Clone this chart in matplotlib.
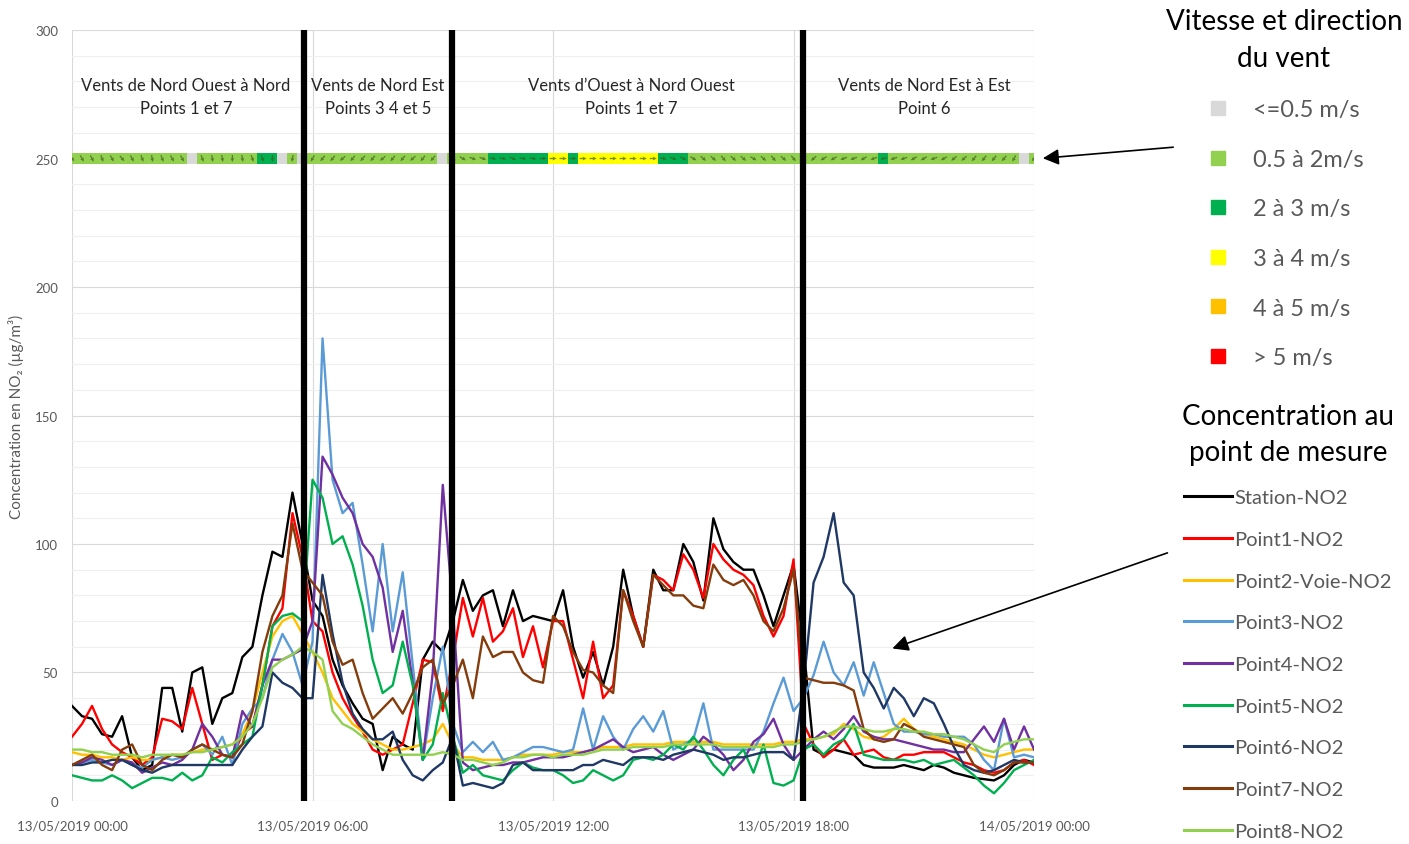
import numpy as np
import matplotlib.pyplot as plt
from matplotlib.lines import Line2D

plt.rcParams['font.family'] = ['Lato', 'DejaVu Sans']

# time axis: 15 min steps over 13/05/2019 (hours)
hours = np.arange(97) * 0.25

# NO2 concentrations (µg/m3), 15 min steps
station = [37, 33, 32, 26, 25, 33, 17, 12, 14, 44, 44, 27, 50, 52, 30, 40,
           42, 56, 60, 80, 97, 95, 120, 100, 78, 72, 55, 45, 38, 32, 30, 12,
           25, 22, 20, 55, 62, 58, 70, 86, 74, 80, 82, 68, 82, 70, 72, 71,
           70, 82, 60, 48, 58, 45, 60, 90, 72, 60, 90, 82, 82, 100, 93, 78,
           110, 98, 93, 90, 90, 80, 68, 80, 92, 60, 20, 18, 20, 19, 18, 14,
           13, 13, 13, 14, 13, 12, 14, 13, 11, 10, 9, 8.5, 8, 10, 14, 16, 15]
point1 = [25, 30, 37, 28, 22, 19, 17, 14, 17, 32, 31, 28, 44, 30, 16, 18,
          17, 26, 29, 45, 68, 75, 112, 95, 70, 66, 50, 40, 33, 27, 20, 18,
          20, 22, 38, 55, 54, 35, 55, 79, 64, 79, 62, 66, 75, 56, 68, 52,
          70, 70, 55, 40, 62, 40, 45, 82, 72, 60, 88, 86, 82, 96, 90, 79,
          100, 94, 90, 88, 84, 72, 64, 72, 94, 30, 22, 17, 20, 24, 18, 19,
          20, 17, 16, 18, 18, 19, 19, 19, 17, 15, 14, 12, 11, 12, 15, 16, 14]
point2 = [19, 18, 18, 17, 17, 16, 17, 16, 16, 17, 18, 18, 19, 20, 20, 21,
          22, 26, 35, 50, 64, 70, 72, 65, 58, 50, 40, 35, 30, 27, 24, 22,
          20, 20, 21, 22, 24, 30, 22, 17, 17, 16, 16, 16, 17, 18, 18, 18,
          18, 19, 19, 19, 20, 21, 21, 21, 22, 22, 22, 22, 23, 23, 23, 23,
          23, 22, 22, 22, 22, 22, 22, 23, 23, 24, 24, 25, 26, 30, 28, 25,
          24, 25, 28, 32, 28, 26, 25, 24, 23, 22, 20, 18, 17, 18, 19, 20, 20]
point3 = [14, 15, 16, 15, 14, 16, 14, 13, 16, 17, 16, 17, 20, 22, 18, 25,
          14, 30, 36, 40, 55, 65, 58, 45, 62, 180, 125, 112, 116, 92, 66, 100,
          66, 89, 53, 16, 40, 60, 30, 19, 23, 19, 23, 16, 17, 19, 21, 21,
          20, 19, 20, 36, 20, 33, 25, 20, 28, 33, 27, 35, 20, 22, 24, 38,
          20, 20, 20, 20, 20, 27, 38, 48, 35, 40, 49, 62, 50, 45, 54, 41,
          54, 42, 30, 27, 27, 26, 26, 25, 25, 25, 22, 16, 12, 32, 17, 18, 17]
point4 = [14, 15, 17, 16, 14, 16, 15, 11, 13, 15, 14, 16, 20, 30, 25, 18,
          17, 35, 29, 45, 55, 55, 57, 59, 70, 134, 127, 118, 112, 100, 95, 83,
          58, 74, 46, 16, 50, 123, 75, 15, 12, 13, 14, 14, 15, 15, 16, 17,
          17, 17, 18, 19, 20, 22, 24, 21, 19, 20, 21, 18, 16, 18, 20, 25,
          22, 18, 12, 16, 23, 26, 32, 22, 16, 20, 24, 27, 24, 28, 33, 27,
          25, 24, 24, 23, 22, 21, 20, 20, 19, 19, 24, 29, 23, 32, 20, 29, 20]
point5 = [10, 9, 8, 8, 10, 8, 5, 7, 9, 9, 8, 11, 8, 10, 17, 15,
          19, 22, 25, 45, 68, 72, 73, 70, 125, 118, 100, 103, 92, 76, 55, 42,
          45, 62, 45, 16, 22, 42, 25, 11, 14, 10, 9, 8, 12, 15, 13, 12,
          12, 10, 7, 8, 12, 10, 8, 10, 16, 17, 16, 18, 22, 20, 25, 20,
          14, 10, 16, 20, 11, 22, 7, 6, 8, 20, 22, 18, 22, 24, 30, 18,
          17, 16, 16, 16, 15, 16, 14, 15, 16, 13, 10, 6, 3, 7, 12, 14, 16]
point6 = [14, 14, 15, 15, 16, 16, 14, 12, 11, 13, 14, 14, 14, 14, 14, 14,
          14, 20, 25, 29, 50, 46, 44, 40, 40, 88, 65, 46, 34, 28, 24, 24,
          27, 16, 10, 8, 12, 15, 25, 6, 7, 6, 5, 7, 14, 15, 12, 12,
          12, 12, 12, 14, 14, 16, 15, 14, 17, 17, 17, 16, 18, 19, 20, 19,
          18, 16, 17, 17, 18, 19, 19, 19, 16, 45, 85, 95, 112, 85, 80, 50,
          44, 36, 44, 40, 33, 40, 38, 30, 21, 14, 12, 11, 12, 14, 16, 15, 15]
point7 = [14, 16, 18, 14, 12, 20, 22, 14, 12, 16, 18, 17, 20, 22, 20, 18,
          17, 22, 35, 58, 72, 80, 108, 90, 85, 80, 62, 53, 55, 42, 32, 36,
          40, 34, 42, 52, 55, 38, 45, 55, 40, 64, 56, 58, 58, 50, 47, 46,
          72, 68, 58, 51, 50, 45, 42, 82, 70, 60, 88, 84, 80, 80, 76, 75,
          92, 86, 84, 86, 80, 70, 66, 75, 90, 48, 47, 46, 46, 45, 43, 28,
          24, 23, 24, 30, 28, 25, 24, 23, 22, 21, 14, 11, 10, 12, 15, 15, 15]
point8 = [20, 20, 19, 19, 18, 18, 18, 17, 18, 18, 18, 18, 19, 19, 20, 21,
          22, 25, 30, 40, 52, 55, 57, 60, 58, 55, 35, 30, 28, 25, 22, 20,
          18, 18, 18, 18, 18, 19, 18, 16, 16, 15, 14, 15, 17, 17, 18, 18,
          17, 18, 18, 18, 19, 20, 20, 20, 21, 21, 21, 21, 22, 22, 22, 22,
          22, 21, 21, 21, 21, 21, 21, 22, 22, 23, 24, 25, 27, 29, 29, 28,
          27, 27, 28, 28, 27, 27, 26, 26, 25, 24, 22, 20, 19, 22, 23, 24, 24]

series_names = ['Station-NO2', 'Point1-NO2', 'Point2-Voie-NO2', 'Point3-NO2',
                'Point4-NO2', 'Point5-NO2', 'Point6-NO2', 'Point7-NO2', 'Point8-NO2']
series_values = [station, point1, point2, point3, point4, point5, point6, point7, point8]
series_colors = ['#000000', '#ff0000', '#ffc000', '#5b9bd5', '#7030a0',
                 '#00b050', '#1f3864', '#843c0c', '#92d050']

# wind class per 15 min step (0: <=0.5, 1: 0.5-2, 2: 2-3, 3: 3-4, 4: 4-5, 5: >5 m/s)
wind_cat = [1, 1, 1, 1, 1, 1, 1, 1, 1, 1, 1, 1, 0, 1, 1, 1, 1, 1, 1, 2,
            2, 0, 1, 0, 1, 1, 1, 1, 1, 1, 1, 1, 1, 1, 1, 1, 1, 0, 1, 1,
            1, 1, 2, 2, 2, 2, 2, 2, 3, 3, 2, 3, 3, 3, 3, 3, 3, 3, 3, 2,
            2, 2, 1, 1, 1, 1, 1, 1, 1, 1, 1, 1, 1, 1, 1, 1, 1, 1, 1, 1,
            1, 2, 1, 1, 1, 1, 1, 1, 1, 1, 1, 1, 1, 1, 1, 0, 1]
# wind direction (degrees, where the wind comes from)
wind_dir = [320, 330, 330, 340, 330, 320, 330, 340, 350, 340, 330, 330, 0, 340, 350, 350,
            0, 350, 340, 340, 0, 0, 10, 0, 30, 40, 40, 50, 40, 40, 40, 50,
            40, 40, 50, 40, 40, 0, 300, 300, 290, 290, 280, 280, 290, 280, 280, 270,
            270, 270, 270, 270, 270, 270, 270, 270, 270, 270, 270, 280, 290, 300, 300, 310,
            310, 320, 310, 310, 300, 310, 320, 310, 320, 40, 50, 60, 60, 70, 70, 60,
            70, 80, 70, 70, 60, 60, 70, 60, 50, 50, 40, 40, 40, 40, 30, 30, 40]
wind_level = 250
wind_labels = ['<=0.5 m/s', '0.5 à 2m/s', '2 à 3 m/s', '3 à 4 m/s', '4 à 5 m/s', '> 5 m/s']
wind_colors = ['#d9d9d9', '#92d050', '#00b050', '#ffff00', '#ffc000', '#ff0000']

# wind regime changes (hours) and labels
section_bounds = [5.78, 9.48, 18.24]
section_centers = [2.84, 7.63, 13.95, 21.26]
section_texts = ['Vents de Nord Ouest à Nord\nPoints 1 et 7',
                 'Vents de Nord Est\nPoints 3 4 et 5',
                 'Vents d\u2019Ouest à Nord Ouest\nPoints 1 et 7',
                 'Vents de Nord Est à Est\nPoint 6']

fig = plt.figure(figsize=(14.09, 8.45), dpi=100)
ax = fig.add_axes([0.0511, 0.0509, 0.6828, 0.9124])

ax.set_xlim(0, 24)
ax.set_ylim(0, 300)
ax.set_yticks(np.arange(0, 301, 50))
ax.set_yticks(np.arange(0, 301, 10), minor=True)
ax.set_xticks([0, 6, 12, 18, 24])
ax.set_xticklabels(['13/05/2019 00:00', '13/05/2019 06:00', '13/05/2019 12:00',
                    '13/05/2019 18:00', '14/05/2019 00:00'])
ax.grid(which='major', axis='both', color='#d9d9d9', lw=0.8)
ax.grid(which='minor', axis='y', color='#efefef', lw=0.8)
ax.set_axisbelow(True)
for s in ax.spines.values():
    s.set_visible(False)
ax.tick_params(which='both', length=0, labelsize=9.5, labelcolor='#595959')
ax.tick_params(axis='x', pad=13)
ax.tick_params(axis='y', pad=10)
ax.set_ylabel('Concentration en NO\u2082 (µg/m³)', fontsize=11, color='#595959', labelpad=8)

for name, vals, col in zip(series_names, series_values, series_colors):
    ax.plot(hours, vals, color=col, lw=1.7, solid_joinstyle='round', label=name)

# wind strip
cats = np.array(wind_cat)
dirs = np.array(wind_dir, dtype=float)
ax.scatter(hours, np.full(len(hours), wind_level), marker='s', s=60,
           c=[wind_colors[c] for c in cats], edgecolors='none', zorder=4)
moving = cats > 0
ang = np.radians(270 - dirs[moving])
ax.quiver(hours[moving], np.full(moving.sum(), wind_level), np.cos(ang), np.sin(ang),
          angles='uv', scale_units='dots', scale=1 / 7, units='dots', width=1.3,
          headwidth=3, headlength=3, headaxislength=2.7, pivot='middle',
          color='#3f5a1a', alpha=0.7, zorder=5)

for b in section_bounds:
    ax.axvline(b, color='black', lw=4.5, zorder=6)
for xc, t in zip(section_centers, section_texts):
    ax.text(xc, 274, t, ha='center', va='center', fontsize=12, color='#262626',
            linespacing=1.55, zorder=7)

# legends
wind_handles = [Line2D([], [], marker='s', ls='none', color=c, markersize=10) for c in wind_colors]
leg1 = fig.legend(wind_handles, wind_labels, loc='upper center',
                  bbox_to_anchor=(1284 / 1409, 1 + 12 / 845), frameon=False,
                  title='Vitesse et direction\ndu vent', title_fontsize=20, fontsize=17,
                  labelspacing=1.21, handlelength=1.2, handletextpad=0.9,
                  labelcolor='#595959')
leg1.get_title().set_multialignment('center')
leg1.get_title().set_linespacing(1.5)

line_handles = [Line2D([], [], color=c, lw=2.2) for c in series_colors]
leg2 = fig.legend(line_handles, series_names, loc='upper center',
                  bbox_to_anchor=(1288 / 1409, 1 - 386 / 845), frameon=False,
                  title='Concentration au\npoint de mesure', title_fontsize=20, fontsize=14.5,
                  labelspacing=1.22, handlelength=2.4, handletextpad=0.1, labelcolor='#595959')
leg2.get_title().set_multialignment('center')
leg2.get_title().set_linespacing(1.45)

# pointer arrows
ax.annotate('', xy=(24.15, wind_level), xycoords='data', xytext=(0.8346, 0.8249),
            textcoords='figure fraction', annotation_clip=False,
            arrowprops=dict(arrowstyle='-|>', color='black', lw=1.2, mutation_scale=24))
ax.annotate('', xy=(20.4, 59), xycoords='data', xytext=(0.8304, 0.3456),
            textcoords='figure fraction', annotation_clip=False,
            arrowprops=dict(arrowstyle='-|>', color='black', lw=1.2, mutation_scale=24))

fig.savefig('out.png', dpi=100)
